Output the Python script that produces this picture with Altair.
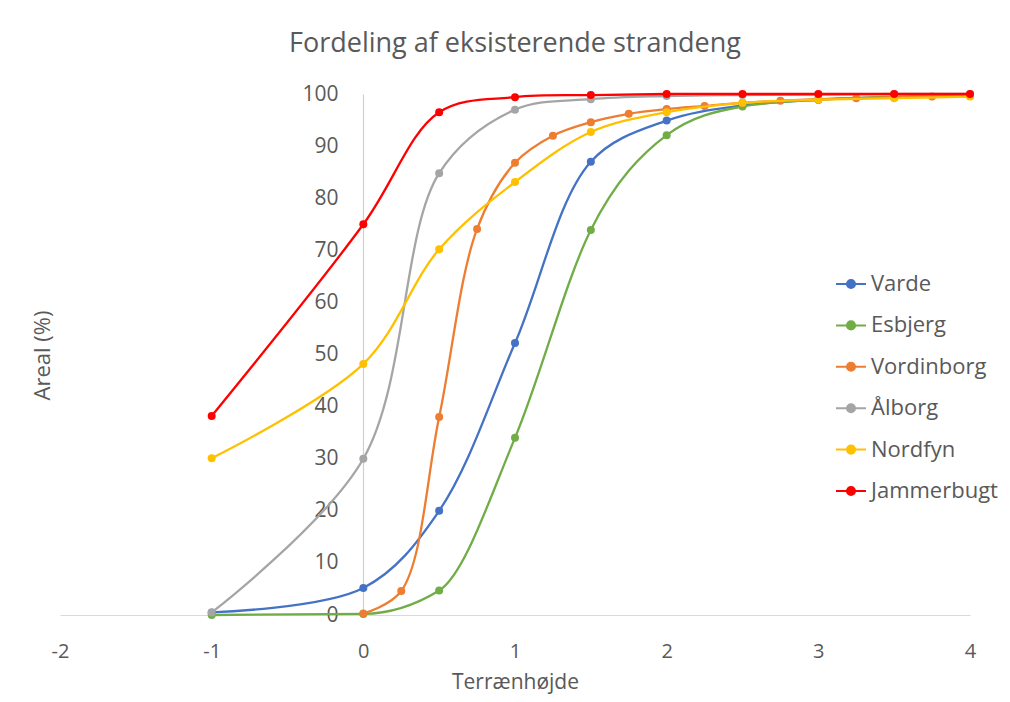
import altair as alt
import pandas as pd

# ---- data ----
series_names = ["Varde", "Esbjerg", "Vordinborg", "Ålborg", "Nordfyn", "Jammerbugt"]
series_colors = ["#4472C4", "#70AD47", "#ED7D31", "#A5A5A5", "#FFC000", "#FF0000"]

x_main = [-1, 0, 0.5, 1, 1.5, 2, 2.5, 3, 3.5, 4]
x_vordinborg = [0, 0.25, 0.5, 0.75, 1, 1.25, 1.5, 1.75, 2, 2.25, 2.5, 2.75, 3, 3.25, 3.5, 3.75, 4]

varde = [0.5, 5.2, 20, 52.2, 87, 94.9, 97.8, 98.9, 99.4, 99.8]
esbjerg = [0, 0.2, 4.7, 34, 73.9, 92.1, 97.6, 98.9, 99.5, 99.8]
vordinborg = [0.3, 4.6, 38, 74.1, 86.8, 92, 94.6, 96.2, 97.1, 97.7, 98.3, 98.7,
              99.0, 99.2, 99.4, 99.5, 99.6]
alborg = [0.5, 30, 84.8, 97, 99, 99.6, 99.8, 99.9, 100, 100]
nordfyn = [30.1, 48.2, 70.2, 83.1, 92.7, 96.5, 98.3, 98.9, 99.2, 99.5]
jammerbugt = [38.2, 75, 96.5, 99.4, 99.8, 100, 100, 100, 100, 100]

x_ticks = [-2, -1, 0, 1, 2, 3, 4]
y_ticks = [0, 10, 20, 30, 40, 50, 60, 70, 80, 90, 100]

series_data = {
    "Varde": (x_main, varde),
    "Esbjerg": (x_main, esbjerg),
    "Vordinborg": (x_vordinborg, vordinborg),
    "Ålborg": (x_main, alborg),
    "Nordfyn": (x_main, nordfyn),
    "Jammerbugt": (x_main, jammerbugt),
}
# Esbjerg stays flat at the bottom in the reference, so it gets a non-overshooting curve
interp = {name: "catmull-rom" for name in series_names}
interp["Esbjerg"] = "monotone"

rows = []
for name in series_names:
    xs, ys = series_data[name]
    for xv, yv in zip(xs, ys):
        rows.append({"serie": name, "x": xv, "y": yv})
df = pd.DataFrame(rows)

TXT = "#595959"
FONT = "Open Sans"

PLOT_W, PLOT_H = 910, 521
PAD_L, PAD_T = 52, 86

x_enc = alt.X("x:Q", scale=alt.Scale(domain=[-2, 4], nice=False, zero=False),
              axis=alt.Axis(values=x_ticks, title="Terrænhøjde", grid=False, ticks=False,
                            labelExpr="'' + datum.value", labelFlush=False,
                            domainColor="#D9D9D9", domainWidth=1.2,
                            labelColor=TXT, labelFontSize=20, labelFont=FONT,
                            labelPadding=26, titleFont=FONT, titleFontSize=21,
                            titleColor=TXT, titleFontWeight="normal", titlePadding=10))
y_enc = alt.Y("y:Q", scale=alt.Scale(domain=[0, 100], nice=False),
              axis=alt.Axis(values=y_ticks, title="Areal (%)", grid=False, ticks=False,
                            offset=-303, domainColor="#D0D0D0", domainWidth=1.2,
                            labelColor=TXT, labelFontSize=21, labelFont=FONT,
                            labelPadding=25, labelFlush=False,
                            titleFont=FONT, titleFontSize=22,
                            titleColor=TXT, titleFontWeight="normal",
                            titleX=-321, titleY=261, titleAlign="center",
                            titleBaseline="middle"))

symbol_path = ("M-1,0L1,0M-0.27,0A0.27,0.27,0,1,1,0.27,0"
               "A0.27,0.27,0,1,1,-0.27,0Z")

legend = alt.Legend(title=None, orient="none", legendX=775, legendY=174,
                    symbolType=symbol_path, symbolSize=900, symbolStrokeWidth=2,
                    symbolOpacity=1,
                    labelFont=FONT, labelFontSize=22, labelColor=TXT,
                    labelOffset=4, rowPadding=14.4)

color_scale = alt.Scale(domain=series_names, range=series_colors)
stroke_enc = alt.Stroke("serie:N", scale=color_scale, sort=series_names, legend=legend)
fill_enc = alt.Fill("serie:N", scale=color_scale, sort=series_names, legend=legend)

base = alt.Chart(df)
layers = []
for name in series_names:
    sub = base.transform_filter(alt.datum.serie == name)
    layers.append(sub.mark_line(interpolate=interp[name], strokeWidth=2.3)
                  .encode(x=x_enc, y=y_enc, stroke=stroke_enc))
    layers.append(sub.mark_point(filled=True, size=64, opacity=1, shape="circle")
                  .encode(x=x_enc, y=y_enc, fill=fill_enc))

chart = alt.layer(*layers).properties(
    width=PLOT_W, height=PLOT_H,
    background="white",
    title=alt.TitleParams("Fordeling af eksisterende strandeng", font=FONT,
                          fontSize=27, fontWeight="normal", color=TXT,
                          anchor="middle", offset=25),
    padding={"left": PAD_L, "top": PAD_T, "right": 32, "bottom": 85},
    autosize=alt.AutoSizeParams(type="none"),
).configure_view(stroke=None)

chart.save("out.html", embed_options={"renderer": "svg", "actions": False})
